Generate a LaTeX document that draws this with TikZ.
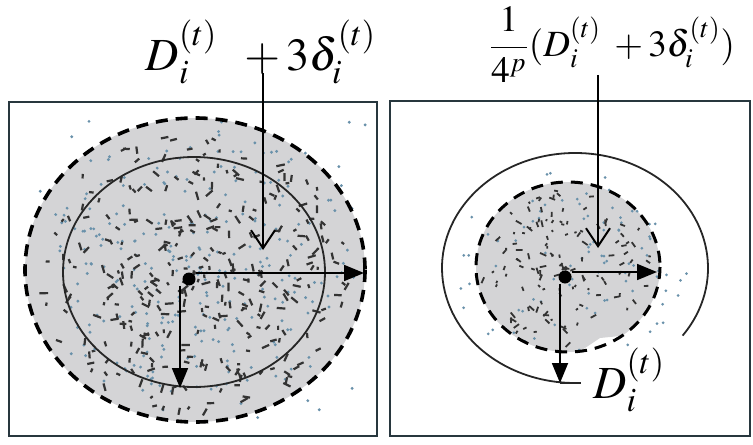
\documentclass[tikz,border=0pt]{standalone}
\usepackage{mathptmx}
\usetikzlibrary{arrows.meta,calc,positioning}
\definecolor{boxline}{RGB}{40,55,62}
\definecolor{cloud}{RGB}{212,212,214}
\definecolor{speck}{RGB}{105,145,170}

\begin{document}
\begin{tikzpicture}[x=0.5pt, y=-0.5pt,
  panel/.style={draw=boxline, line width=1.4pt},
  ring/.style={draw=black!85, line width=0.9pt},
  dashring/.style={draw=black, line width=1.8pt, dash pattern=on 6pt off 4pt},
  axis/.style={draw=black, line width=0.9pt, -{Triangle[length=10pt,width=8pt]}},
  pointer/.style={draw=black, line width=1pt, -{Straight Barb[length=9pt,width=12pt,line width=1pt]}},
  centre/.style={circle, fill=black, inner sep=0pt, minimum size=6.5pt},
  grain/.style={draw=black!80, line width=1.1pt},
  dust/.style={fill=speck},
  biglab/.style={font=\fontsize{23}{27}\selectfont, inner sep=0pt},
  smalllab/.style={font=\fontsize{18.5}{22}\selectfont, inner sep=0pt}
]
\useasboundingbox (0,0) rectangle (753,444);

% --- Pannello sinistro ---
\draw[panel] (9,102) rectangle (377,436);
\fill[cloud] (195,270) ellipse [x radius=170, y radius=152];
% nuvola di punti
\pgfmathsetseed{11}
\foreach \k in {1,...,240}{
  \pgfmathsetmacro\ang{360*rnd}
  \pgfmathsetmacro\rad{rnd^0.6}
  \fill[dust] ({194+160*\rad*cos(\ang)},{272+142*\rad*sin(\ang)}) circle (1.6);
}
\foreach \k in {1,...,330}{
  \pgfmathsetmacro\ang{360*rnd}
  \pgfmathsetmacro\rad{rnd^0.7}
  \pgfmathsetmacro\len{3+6*rnd}
  \pgfmathsetmacro\tilt{180*rnd}
  \draw[grain] ({194+158*\rad*cos(\ang)},{272+140*\rad*sin(\ang)}) -- ++(\tilt:\len);
}
\foreach \k in {1,...,45}{
  \fill[dust] ({18+350*rnd},{110+318*rnd}) circle (1.6);
}
\draw[dashring] (195,270) ellipse [x radius=170, y radius=152];
\draw[ring] (194,272) ellipse [x radius=131, y radius=115];
% centro e raggi
\node[centre] (c1) at (189,279) {};
\coordinate (r1) at (364,273);
\coordinate (b1) at (180,388);
\draw[axis] (c1.east |- r1) -- (r1);
\draw[axis] (b1 |- c1.south) -- (b1);
\node[biglab, anchor=base] (lab1) at (261,70) {$D_i^{(t)}\;\; + 3\delta_i^{(t)}$};
\coordinate (p1) at (263,250);
\draw[pointer] ($(lab1.base -| p1)+(0,3)$) -- (p1);

% --- Pannello destro ---
\draw[panel] (390,101) rectangle (750,436);
\begin{scope}
  \clip (440,150) -- (720,150) -- (720,322) -- (640,334) -- (600,338) -- (570,358) -- (440,360) -- cycle;
  \fill[cloud] (568,267) ellipse [x radius=92, y radius=85];
\end{scope}
\foreach \k in {1,...,90}{
  \pgfmathsetmacro\ang{360*rnd}
  \pgfmathsetmacro\rad{rnd^0.6}
  \fill[dust] ({568+120*\rad*cos(\ang)},{268+100*\rad*sin(\ang)}) circle (1.5);
}
\foreach \k in {1,...,130}{
  \pgfmathsetmacro\ang{360*rnd}
  \pgfmathsetmacro\rad{rnd^0.7}
  \pgfmathsetmacro\len{2+5*rnd}
  \pgfmathsetmacro\tilt{180*rnd}
  \draw[grain, line width=0.9pt] ({566+86*\rad*cos(\ang)},{268+80*\rad*sin(\ang)}) -- ++(\tilt:\len);
}
\draw[dashring, line width=1.5pt] (568,267) ellipse [x radius=92, y radius=85];
\draw[ring] (575,268) ++(36:133 and 115) arc[start angle=36, end angle=-268, x radius=133, y radius=115];
% centro e raggi
\node[centre] (c2) at (565,277) {};
\coordinate (r2) at (657,272);
\coordinate (b2) at (560,383);
\draw[axis] (c2.east |- r2) -- (r2);
\draw[axis] (b2 |- c2.south) -- (b2);
\draw[ring] (b2) -- ++(21,0);
\node[smalllab, anchor=base] (lab2) at (612,57) {$\displaystyle\frac{1}{4^p}(D_i^{(t)}\; + 3\delta_i^{(t)})$};
\coordinate (p2) at (598,248);
\draw[pointer] ($(lab2.base -| p2)+(0,18)$) -- (p2);
\node[biglab, anchor=base west] (lab3) at (593,398) {$D_i^{(t)}$};

\end{tikzpicture}
\end{document}
